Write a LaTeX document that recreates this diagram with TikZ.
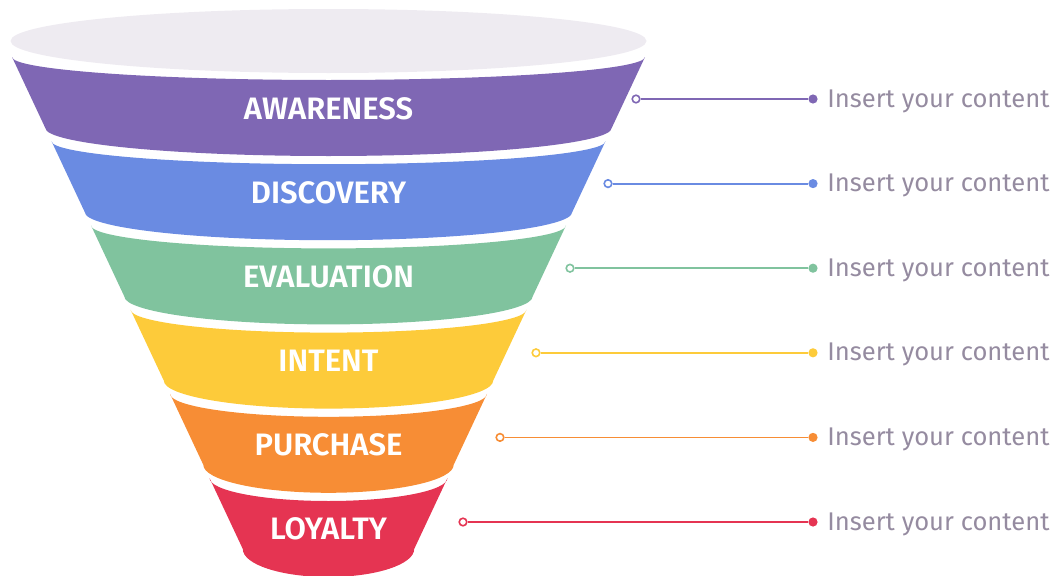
\documentclass[tikz,border=0pt]{standalone}
\usepackage{fontspec}
\setmainfont{Fira Sans}
\newfontfamily\stagefont{Fira Sans SemiBold}
\usetikzlibrary{positioning}
\definecolor{cRim}{RGB}{238,235,241}
\definecolor{cPurple}{RGB}{127,103,180}
\definecolor{cBlue}{RGB}{106,139,226}
\definecolor{cGreen}{RGB}{128,195,158}
\definecolor{cYellow}{RGB}{253,203,58}
\definecolor{cOrange}{RGB}{247,141,53}
\definecolor{cRed}{RGB}{229,52,82}
\definecolor{cNote}{RGB}{149,139,160}
\tikzset{
	stagetxt/.style={text=white, font=\stagefont\fontsize{15.5}{18}\selectfont},
	opendot/.style ={circle, draw, fill=white, line width=0.8pt, minimum size=3.8pt, inner sep=0pt},
	fulldot/.style ={circle, minimum size=4.6pt, inner sep=0pt},
	link/.style    ={line width=0.9pt},
	notetxt/.style ={text=cNote, font=\fontsize{12.8}{15}\selectfont, inner sep=0pt},
}
\begin{document}
\begin{tikzpicture}[x=0.5pt, y=0.5pt]
	\useasboundingbox (0,0) rectangle (1057,575);
	% rim of the funnel
	\fill[cRim] (328.5,534) ellipse [x radius=318, y radius=32];
	% stages, top to bottom
	\foreach \i/\lab/\col/\ox in {0/AWARENESS/cPurple/636, 1/DISCOVERY/cBlue/608, 2/EVALUATION/cGreen/570, 3/INTENT/cYellow/536, 4/PURCHASE/cOrange/500, 5/LOYALTY/cRed/463}{
		\pgfmathsetmacro{\ty}{518-84.2*\i}
		\pgfmathsetmacro{\by}{\ty-71}
		\pgfmathsetmacro{\xt}{12+39.5*\i}
		\pgfmathsetmacro{\xb}{\xt+33.3}
		\pgfmathsetmacro{\rt}{328.5-\xt}
		\pgfmathsetmacro{\rb}{328.5-\xb}
		\fill[\col] (\xt,\ty) -- (\xb,\by) arc[start angle=180, end angle=360, x radius=\rb, y radius=28]
			-- (657-\xt,\ty) arc[start angle=0, end angle=-180, x radius=\rt, y radius=23] -- cycle;
		\node[stagetxt] (stage\i) at (328.5,466-84*\i) {\lab};
		% callout
		\node[opendot, draw=\col] (open\i) at (\ox,476-84.6*\i) {};
		\node[fulldot, fill=\col] (dot\i) at (813,476-84.6*\i) {};
		\draw[link, \col] (open\i) -- (dot\i);
		\node[notetxt, right=4.5pt of dot\i, yshift=-1pt] (note\i) {Insert your content};
	}
\end{tikzpicture}
\end{document}
